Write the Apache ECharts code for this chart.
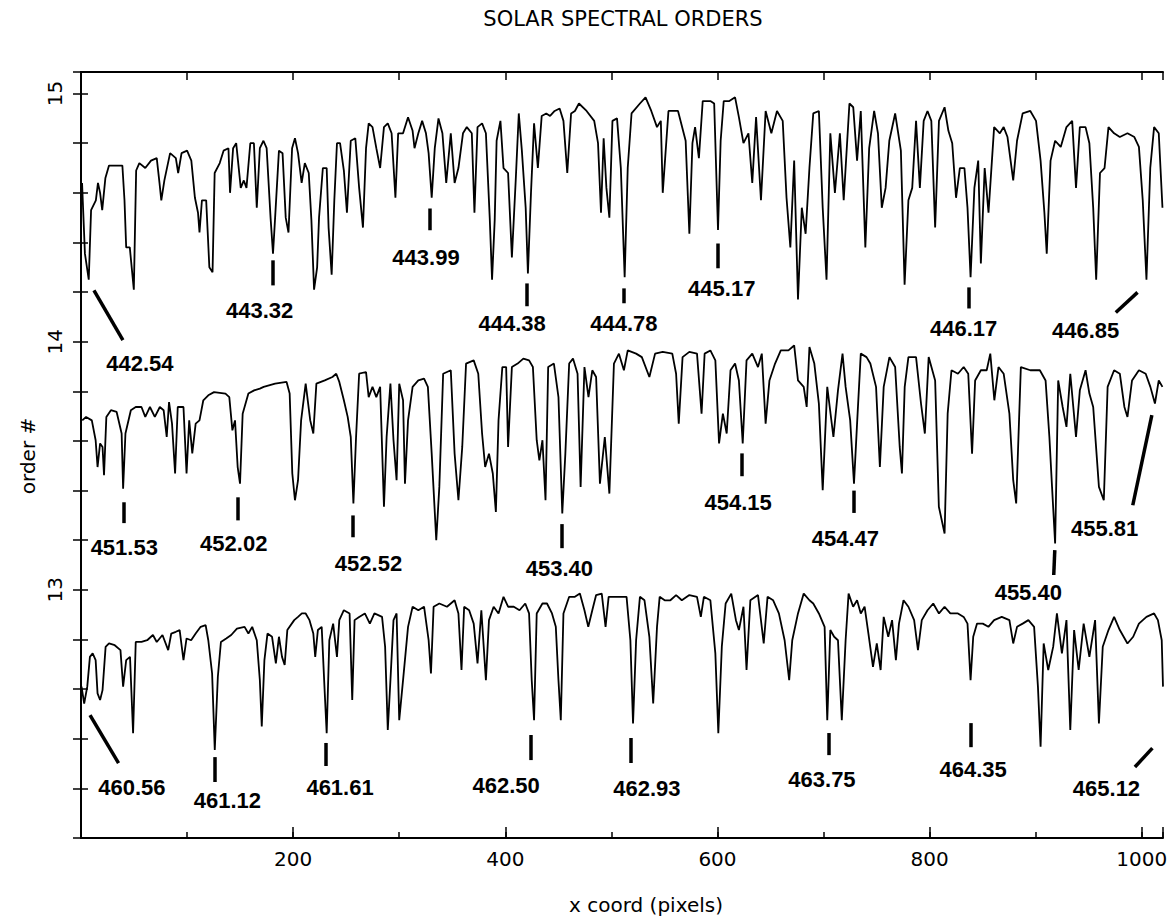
<!DOCTYPE html>
<html>
<head>
<meta charset="utf-8">
<script src="https://cdn.jsdelivr.net/npm/echarts@6/dist/echarts.min.js"></script>
<style>
html,body{margin:0;padding:0;background:#fff;}
#chart{width:1174px;height:921px;}
</style>
</head>
<body>
<div id="chart"></div>
<script>
// ---- data: spectra (x pixel, order # + normalised flux) ----
const order15 = [[1,14.64],[3.7,14.355],[7.3,14.25],[9.5,14.53],[14,14.57],[16,14.64],[18,14.6],[20,14.53],[23,14.66],[26.4,14.71],[39,14.71],[41,14.57],[42.6,14.38],[46,14.38],[49.8,14.21],[52,14.69],[55,14.72],[60.6,14.7],[66,14.73],[71.4,14.74],[74,14.64],[75.7,14.57],[78.6,14.65],[84,14.76],[89.4,14.74],[91.6,14.68],[94.8,14.76],[100,14.77],[104,14.73],[107.4,14.58],[110.3,14.52],[111.7,14.44],[114,14.57],[118,14.57],[121,14.3],[124,14.28],[126,14.68],[130.8,14.72],[134.4,14.77],[139,14.78],[140.5,14.6],[143.4,14.78],[146.3,14.8],[150.6,14.62],[153.5,14.65],[156,14.62],[159.6,14.8],[163,14.8],[165.7,14.54],[168.6,14.78],[172,14.81],[175,14.78],[178.7,14.5],[181,14.355],[183,14.5],[186.6,14.77],[190,14.76],[193,14.5],[195.6,14.44],[199,14.78],[201.7,14.82],[204.6,14.76],[208,14.64],[211,14.72],[214.7,14.68],[217.2,14.49],[219.7,14.21],[222.6,14.3],[224.4,14.5],[228,14.7],[231.6,14.7],[233.4,14.46],[236.3,14.27],[238.8,14.57],[241.3,14.8],[244.2,14.8],[247.8,14.69],[250.7,14.52],[254.3,14.81],[258.6,14.82],[262.2,14.62],[265.8,14.46],[268.7,14.78],[271.2,14.88],[274.8,14.865],[278.4,14.78],[282,14.7],[285.6,14.865],[289.2,14.88],[292.8,14.84],[296.4,14.58],[299,14.84],[303.6,14.84],[308.3,14.905],[312.6,14.85],[314.4,14.78],[318,14.84],[321.6,14.89],[325.2,14.84],[327.7,14.76],[330.6,14.58],[333.5,14.78],[337,14.9],[340.7,14.84],[344.3,14.64],[348.6,14.84],[352.2,14.64],[355.8,14.7],[360.1,14.84],[363.7,14.865],[368.4,14.84],[370.9,14.52],[373.8,14.865],[378.1,14.88],[381.7,14.84],[385.3,14.5],[387.5,14.25],[390,14.49],[391.8,14.81],[395.4,14.89],[398.3,14.7],[402.6,14.68],[406.2,14.34],[409.8,14.65],[412.7,14.92],[415.6,14.77],[419.2,14.54],[421.3,14.275],[424.2,14.6],[427.1,14.88],[430.7,14.7],[434.3,14.91],[438.6,14.92],[442.2,14.91],[446.5,14.93],[451.2,14.94],[454.8,14.89],[458.4,14.68],[462,14.92],[465.6,14.93],
[469.4,14.96],[476.6,14.93],[483.8,14.89],[487.4,14.8],[490.2,14.52],[492.7,14.82],[495.3,14.62],[498.1,14.5],[501,14.89],[505.3,14.9],[508.9,14.7],[512.5,14.26],[515.4,14.7],[519,14.92],[526.9,14.96],[532.2,14.985],[537.6,14.93],[543,14.865],[546.6,14.89],[548.4,14.6],[553.8,14.93],[562.8,14.93],[570,14.81],[573.5,14.435],[576.4,14.8],[578.9,14.865],[582.5,14.74],[586.1,14.97],[593.3,14.97],[596.9,14.96],[600.5,14.45],[603,14.81],[605.9,14.97],[611.2,14.97],[616.6,14.985],[620.2,14.905],[624.5,14.8],[629.2,14.84],[632.8,14.64],[636.4,14.905],[641,14.57],[645.4,14.93],[650.8,14.84],[656.1,14.93],[661.5,14.89],[665.1,14.58],[668.7,14.38],[672.3,14.73],[675.9,14.17],[679.5,14.54],[683.1,14.435],[686.7,14.7],[690.3,14.92],[695.6,14.93],[699.2,14.54],[702.8,14.25],[706.4,14.84],[710.7,14.6],[715.4,14.84],[719,14.57],[724.4,14.96],[728,14.945],[731.6,14.73],[735.1,14.93],[739.4,14.38],[743,14.78],[747.7,14.93],[751.3,14.84],[754.9,14.54],[758.5,14.62],[762,14.81],[767.5,14.92],[772.9,14.77],[776.4,14.23],[780,14.57],[783.6,14.62],[787.2,14.89],[790.8,14.62],[794.4,14.89],[798,14.93],[801.6,14.89],[805.2,14.46],[808.8,14.89],[814.1,14.945],[817.7,14.85],[821.3,14.8],[824.9,14.58],[828.5,14.7],[832.8,14.7],[835.7,14.54],[838.6,14.26],[842.2,14.62],[845.8,14.73],[848.3,14.315],[851.9,14.7],[855.5,14.52],[860.8,14.865],[866.2,14.84],[869.8,14.865],[873.4,14.825],[878.8,14.65],[882.4,14.81],[887.7,14.92],[894.9,14.93],[900.3,14.89],[904.6,14.73],[908.2,14.52],[910.4,14.355],[914,14.73],[918.3,14.81],[923.6,14.785],[929,14.865],[934.4,14.89],[938,14.62],[941.6,14.865],[947,14.865],[950.6,14.8],[954.2,14.54],[957,14.25],[960.6,14.68],[964.9,14.7],[968.6,14.865],[973.9,14.84],[979.3,14.825],[986.5,14.84],[993,14.825],[997.3,14.785],[1000.9,14.57],[1004.4,14.25],[1008,14.7],[1011.6,14.865],[1016,14.84],[1019.5,14.54]];

const order14 = [[1.2,13.683],[4.8,13.697],[10.2,13.683],[13.8,13.603],[15.6,13.495],[18,13.59],[20.3,13.576],[21.7,13.462],[23.9,13.697],[28.2,13.724],[33.6,13.717],[38.3,13.63],[39.7,13.408],[41.9,13.63],[47,13.724],[51.6,13.737],[57,13.737],[60.6,13.697],[65,13.737],[69.6,13.697],[74.3,13.737],[77.9,13.724],[80.8,13.616],[83,13.757],[85.8,13.67],[88.7,13.469],[91.2,13.737],[96.6,13.737],[99.5,13.469],[102,13.683],[104.9,13.55],[108.1,13.67],[111.7,13.683],[115.3,13.764],[120,13.784],[125.4,13.797],[136.2,13.791],[139.8,13.777],[142.7,13.643],[145.2,13.683],[147.7,13.495],[149.9,13.428],[152.4,13.71],[157.8,13.791],[163.2,13.804],[168.6,13.811],[172.2,13.818],[183,13.831],[193.8,13.838],[196.7,13.791],[199.2,13.469],[201.7,13.361],[204.6,13.442],[207.5,13.683],[211.8,13.831],[216.1,13.683],[219,13.63],[221.9,13.831],[229.8,13.844],[237,13.858],[240.6,13.871],[243.5,13.838],[247.8,13.764],[251.4,13.697],[254.3,13.616],[256.8,13.348],[259.3,13.616],[262.2,13.871],[268.7,13.878],[271.2,13.777],[274.8,13.818],[278.4,13.777],[282,13.818],[285.6,13.335],[288.1,13.616],[291.7,13.831],[294.6,13.603],[297.5,13.442],[300,13.831],[303.6,13.764],[305.4,13.428],[308.3,13.683],[312.6,13.818],[318,13.844],[323.4,13.851],[327,13.818],[330.6,13.549],[334.9,13.2],[337.8,13.415],[341.4,13.871],[348.6,13.885],[352.2,13.549],[355.8,13.361],[359.4,13.576],[363,13.912],[370.2,13.925],[374.5,13.871],[378.1,13.63],[381,13.495],[384.6,13.549],[388.2,13.469],[391.1,13.314],[393.6,13.683],[397.2,13.898],[400.8,13.898],[402.6,13.576],[406.2,13.898],[411.6,13.912],[417,13.932],[422.4,13.925],[426,13.898],[429.6,13.603],[432.1,13.522],[435,13.603],[437.9,13.361],[440.4,13.898],[445.8,13.912],[450.1,13.777],[453.7,13.308],[456.6,13.549],[460.2,13.912],[463.8,13.932],[468.1,13.871],[471,13.415],[474.6,13.898],
[478.4,13.777],[482,13.885],[485.6,13.858],[489.2,13.428],[493.8,13.616],[498.1,13.388],[502.4,13.912],[507.1,13.952],[511.8,13.885],[515.4,13.965],[523.3,13.952],[528.7,13.938],[535.8,13.858],[541.2,13.952],[548.4,13.959],[557.4,13.952],[561,13.871],[563.5,13.67],[567.1,13.938],[573.5,13.959],[580.7,13.952],[585,13.71],[587.9,13.952],[593.3,13.965],[598,13.925],[601.5,13.59],[605.1,13.71],[608.7,13.63],[612.3,13.885],[616.6,13.912],[620.2,13.844],[623.8,13.59],[627.4,13.925],[632.8,13.952],[638.2,13.898],[641.8,13.952],[645.4,13.67],[649,13.844],[654.3,13.912],[659.7,13.965],[666.9,13.965],[672.3,13.985],[675.9,13.844],[681.3,13.818],[684.1,13.737],[686.7,13.979],[691.3,13.912],[695.6,13.75],[699.2,13.402],[703.5,13.818],[709.3,13.616],[713.6,13.804],[717.9,13.952],[720.8,13.818],[725.1,13.683],[728.7,13.428],[731.6,13.67],[735.1,13.952],[740.5,13.938],[744.1,13.912],[749.5,13.818],[753.1,13.495],[756.7,13.818],[762.1,13.938],[767.5,13.898],[771.8,13.576],[773.9,13.469],[776.5,13.818],[780,13.938],[787.2,13.938],[791.9,13.75],[795.5,13.63],[799.1,13.938],[805.2,13.844],[808.7,13.335],[814.1,13.227],[817,13.71],[820.6,13.885],[826.7,13.871],[832.1,13.898],[836.4,13.871],[840,13.549],[842.9,13.844],[848.3,13.885],[853.8,13.885],[857.2,13.952],[861,13.764],[864.9,13.898],[869.8,13.871],[875.2,13.71],[878.8,13.442],[881.6,13.348],[886,13.898],[894.9,13.885],[903.9,13.885],[909.3,13.844],[912.9,13.616],[915.4,13.415],[918.3,13.187],[921.2,13.844],[925.4,13.737],[929,13.657],[932.6,13.871],[938,13.616],[941.6,13.804],[947,13.885],[950.6,13.791],[954.2,13.737],[959.6,13.415],[964.2,13.361],[967.8,13.818],[973.9,13.885],[979.3,13.871],[983.6,13.737],[986.5,13.697],[990.8,13.844],[997.3,13.885],[1003.7,13.871],[1008.1,13.818],[1012.4,13.751],[1016,13.844],[1019.5,13.818]];

const order13 = [[0.5,12.61],[3,12.542],[5.9,12.61],[8.4,12.73],[11,12.744],[13.8,12.717],[15.6,12.583],[18,12.556],[20.3,12.596],[23.2,12.77],[26.4,12.784],[31.8,12.777],[37.2,12.757],[39.7,12.61],[42.6,12.717],[46.2,12.73],[49.1,12.422],[51.6,12.79],[57,12.79],[62.4,12.797],[67.8,12.818],[71.4,12.79],[76.8,12.818],[82.2,12.757],[85.1,12.824],[89.4,12.831],[93,12.838],[96.6,12.717],[99.5,12.804],[103.8,12.797],[108.1,12.824],[112.8,12.851],[117.5,12.858],[120,12.797],[123.6,12.663],[126.1,12.355],[129,12.65],[131.9,12.79],[136.9,12.804],[141.6,12.818],[147,12.844],[154.2,12.851],[157.8,12.824],[161.4,12.851],[165.7,12.797],[168.6,12.636],[170.4,12.449],[172.9,12.717],[175.8,12.824],[180.1,12.811],[183.7,12.704],[186.6,12.811],[189.5,12.73],[192,12.697],[194.5,12.838],[201,12.878],[204.6,12.891],[208.2,12.905],[211.8,12.905],[215.4,12.878],[219,12.824],[220.8,12.73],[223.3,12.838],[226.9,12.851],[229.8,12.583],[231.6,12.422],[234.1,12.797],[237.7,12.864],[241.3,12.73],[243.5,12.878],[247.8,12.918],[253.2,12.905],[255.7,12.556],[257.9,12.878],[262.2,12.891],[267.6,12.905],[272.3,12.864],[276.6,12.905],[283.8,12.891],[286.7,12.77],[289.2,12.435],[291.7,12.636],[294.6,12.878],[297.5,12.905],[300,12.475],[303.6,12.636],[308.3,12.851],[312.6,12.932],[318,12.918],[323.4,12.932],[327.7,12.797],[329.9,12.663],[332.4,12.932],[337.8,12.945],[345,12.932],[352.2,12.958],[355.8,12.905],[358.7,12.677],[361.2,12.932],[365.9,12.918],[370.2,12.864],[373.8,12.704],[377.4,12.918],[381.7,12.636],[384.6,12.878],[389,12.932],[393.6,12.905],[398.3,12.972],[402.6,12.932],[408,12.932],[413.4,12.918],[418.8,12.945],[422.4,12.905],[424.9,12.636],[427.1,12.475],[429.6,12.905],[435,12.945],[439.3,12.945],[444,12.905],[447.6,12.851],[450.1,12.636],[452.3,12.475],[454.8,12.905],[460.2,12.972],[465.6,12.972],[470.3,12.985],[474.6,12.918],[478.2,12.851],
[482,12.918],[485.6,12.979],[490.9,12.985],[494.5,12.851],[497.4,12.972],[503.5,12.972],[514.3,12.972],[517.9,12.797],[520.4,12.462],[523.3,12.797],[526.9,12.972],[531.2,12.958],[535.8,12.811],[539.4,12.542],[543,12.851],[545.5,12.972],[550.2,12.958],[555.6,12.958],[561,12.979],[566.4,12.958],[573.5,12.979],[580.7,12.972],[584.3,12.891],[587.2,12.972],[593.3,12.958],[598,12.744],[600.8,12.422],[604.1,12.771],[607.7,12.945],[613,12.985],[617.4,12.878],[620.2,12.838],[624.5,12.932],[627.4,12.677],[631,12.958],[638.2,12.979],[643.6,12.784],[647.2,12.972],[652.5,12.958],[657.9,12.905],[663.3,12.797],[667.6,12.636],[670.5,12.797],[675.9,12.905],[681.3,12.985],[686.7,12.958],[690.3,12.945],[695.6,12.905],[701,12.851],[703.5,12.475],[706.4,12.838],[710,12.811],[713.6,12.797],[717.2,12.475],[720.8,12.797],[723.6,12.985],[727.9,12.932],[731.6,12.958],[735.1,12.905],[738.7,12.932],[742.3,12.824],[746.6,12.69],[750.2,12.784],[753.8,12.677],[756.7,12.891],[761,12.811],[764.6,12.878],[768.2,12.717],[771.1,12.864],[775.4,12.958],[780,12.932],[785.4,12.878],[789,12.757],[792.6,12.878],[798,12.918],[803.4,12.945],[808.8,12.905],[814.1,12.932],[819.5,12.905],[826.7,12.905],[832.1,12.891],[835.7,12.864],[838.6,12.636],[841.1,12.811],[844.7,12.864],[850.1,12.864],[855.4,12.851],[860.8,12.878],[868,12.891],[875.2,12.878],[878.8,12.784],[882.4,12.851],[887.7,12.864],[893.1,12.878],[898.5,12.851],[902.1,12.61],[904.6,12.368],[907.5,12.784],[911.8,12.677],[916.5,12.771],[920,12.905],[924.7,12.744],[929,12.878],[932.6,12.435],[936.2,12.838],[940.5,12.677],[945.2,12.864],[950.6,12.73],[956,12.878],[959.6,12.462],[963.2,12.771],[968.6,12.838],[973.9,12.891],[979.3,12.838],[986.5,12.784],[991.9,12.811],[997.3,12.864],[1004.4,12.891],[1011.6,12.905],[1015.2,12.878],[1018.8,12.797],[1020,12.61]];

// ---- data: line identifications (wavelength in nm) ----
const lineLabels = ['442.54','443.32','443.99','444.38','444.78','445.17','446.17','446.85',
                    '451.53','452.02','452.52','453.40','454.15','454.47','455.40','455.81',
                    '460.56','461.12','461.61','462.50','462.93','463.75','464.35','465.12'];
const labelX = [55.5,168.4,325.2,406.4,511.8,604,832,947, 40.8,144,271,451,619.5,720.6,893,965, 48,138,244.2,400.8,533.4,698.5,841,966.7];
const labelY = [13.913,14.126,14.34,14.074,14.074,14.215,14.054,14.046, 13.172,13.188,13.107,13.087,13.353,13.208,12.99,13.248, 12.205,12.153,12.205,12.213,12.2,12.234,12.278,12.2];
const markX1 = [12.2,180.6,328.8,420.5,511.8,600.5,837,996, 40,147.7,256,453,623,728,918,1009.5, 8.5,126.5,230.9,424.3,518,704.6,839,1010];
const markY1 = [14.207,14.328,14.537,14.235,14.215,14.396,14.219,14.199, 13.353,13.373,13.3,13.265,13.55,13.4,13.16,13.704, 12.495,12.326,12.383,12.415,12.403,12.423,12.463,12.362];
const markX2 = [39.5,180.6,328.8,420.5,511.8,600.5,837,975.5, 40,147.7,256,453,623,728,917,991.5, 35.4,126.5,230.9,424.3,518,704.6,839,993.5];
const markY2 = [14.006,14.227,14.449,14.143,14.155,14.296,14.134,14.118, 13.269,13.28,13.212,13.168,13.458,13.31,13.06,13.341, 12.302,12.226,12.29,12.314,12.302,12.334,12.366,12.286];

// ---- axes ----
const xMin = 0, xMax = 1020, yMin = 12, yMax = 15.087;
const xTickLabels = [200, 400, 600, 800, 1000];
const yTickLabels = [13, 14, 15];

const INK = '#000';
const chart = echarts.init(document.getElementById('chart'), null, {renderer: 'svg'});

const markData = lineLabels.map((t, i) => ({coords: [[markX1[i], markY1[i]], [markX2[i], markY2[i]]]}));
const labelData = lineLabels.map((t, i) => [labelX[i], labelY[i], t]);

const baseX = {type: 'value', min: xMin, max: xMax, splitLine: {show: false}, gridIndex: 0};
const baseY = {type: 'value', min: yMin, max: yMax, interval: 0.2, splitLine: {show: false}, gridIndex: 0};

chart.setOption({
  animation: false,
  backgroundColor: '#fff',
  grid: {left: 81, right: 11, top: 72, bottom: 83, containLabel: false},
  xAxis: [
    Object.assign({}, baseX, {position: 'bottom', interval: 100,
      axisLine: {show: true, lineStyle: {color: INK, width: 2}},
      axisTick: {show: true, inside: true, length: 6, lineStyle: {color: INK, width: 1.5}},
      axisLabel: {show: false}}),
    Object.assign({}, baseX, {position: 'bottom', interval: 200,
      axisLine: {show: false},
      axisTick: {show: true, inside: true, length: 11, lineStyle: {color: INK, width: 1.5}},
      axisLabel: {show: true, margin: 11, color: INK, fontSize: 20, fontFamily: 'DejaVu Sans',
        formatter: v => xTickLabels.indexOf(Math.round(v)) >= 0 ? String(Math.round(v)) : ''}}),
    Object.assign({}, baseX, {position: 'top', interval: 100,
      axisLine: {show: true, lineStyle: {color: INK, width: 2}},
      axisTick: {show: true, inside: true, length: 8, lineStyle: {color: INK, width: 1.5}},
      axisLabel: {show: false}})
  ],
  yAxis: [
    Object.assign({}, baseY, {position: 'left',
      axisLine: {show: true, lineStyle: {color: INK, width: 2}},
      axisTick: {show: true, inside: true, length: 7, lineStyle: {color: INK, width: 1.5}},
      axisLabel: {show: true, rotate: 90, margin: 16, color: INK, fontSize: 20, fontFamily: 'DejaVu Sans',
        formatter: v => { const r = Math.round(v); return (Math.abs(v - r) < 1e-6 && yTickLabels.indexOf(r) >= 0) ? String(r) : ''; }}}),
    Object.assign({}, baseY, {position: 'right',
      axisLine: {show: true, lineStyle: {color: INK, width: 2}},
      axisTick: {show: true, inside: true, length: 8, lineStyle: {color: INK, width: 1.5}},
      axisLabel: {show: false}})
  ],
  graphic: [
    {type: 'text', x: 623, y: 19, style: {text: 'SOLAR SPECTRAL ORDERS', fill: INK,
      font: '21px "DejaVu Sans"', x: 0, y: 0, textAlign: 'center', textVerticalAlign: 'middle'}},
    {type: 'text', x: 646, y: 905, style: {text: 'x coord (pixels)', fill: INK, font: '20px "DejaVu Sans"',
      x: 0, y: 0, textAlign: 'center', textVerticalAlign: 'middle'}},
    {type: 'text', x: 28, y: 456, rotation: Math.PI / 2, style: {text: 'order #', fill: INK,
      font: '20px "DejaVu Sans"', x: 0, y: 0, textAlign: 'center', textVerticalAlign: 'middle'}}
  ],
  series: [
    {type: 'line', name: 'order 15', data: order15, symbol: 'none', xAxisIndex: 0, yAxisIndex: 0,
      lineStyle: {color: INK, width: 1.8}},
    {type: 'line', name: 'order 14', data: order14, symbol: 'none', xAxisIndex: 0, yAxisIndex: 0,
      lineStyle: {color: INK, width: 1.8}},
    {type: 'line', name: 'order 13', data: order13, symbol: 'none', xAxisIndex: 0, yAxisIndex: 0,
      lineStyle: {color: INK, width: 1.8}},
    {type: 'lines', coordinateSystem: 'cartesian2d', xAxisIndex: 0, yAxisIndex: 0, data: markData,
      lineStyle: {color: INK, width: 3.5, opacity: 1, curveness: 0}},
    {type: 'scatter', xAxisIndex: 0, yAxisIndex: 0, data: labelData, symbolSize: 0,
      itemStyle: {color: INK, opacity: 1},
      label: {show: true, position: 'inside', formatter: p => p.value[2], color: INK, opacity: 1,
        fontSize: 22, fontWeight: 'bold', fontFamily: '"Liberation Sans", Arial, sans-serif'}}
  ]
});
</script>
</body>
</html>
